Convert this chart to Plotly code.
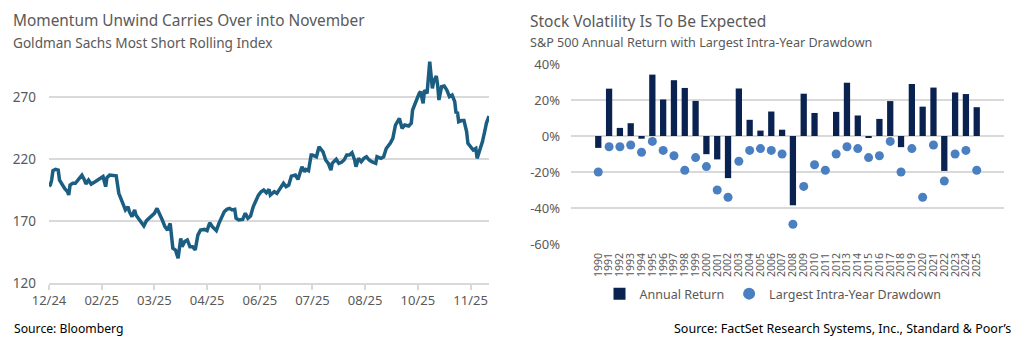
import plotly.graph_objects as go

# ---------------- Left chart data: Goldman Sachs Most Short Rolling Index ----------------
gs_dates = [
    "2024-12-31", "2025-01-01", "2025-01-02", "2025-01-03", "2025-01-05", "2025-01-07", "2025-01-08",
    "2025-01-10", "2025-01-12", "2025-01-14", "2025-01-15", "2025-01-16", "2025-01-18", "2025-01-20",
    "2025-01-23", "2025-01-25", "2025-01-27", "2025-01-28", "2025-01-30", "2025-02-01", "2025-02-04",
    "2025-02-06", "2025-02-08", "2025-02-10", "2025-02-12", "2025-02-13", "2025-02-15", "2025-02-17",
    "2025-02-20", "2025-02-22", "2025-02-23", "2025-02-25", "2025-02-27", "2025-03-01", "2025-03-02",
    "2025-03-04", "2025-03-06", "2025-03-07", "2025-03-09", "2025-03-11", "2025-03-13", "2025-03-15",
    "2025-03-17", "2025-03-19", "2025-03-21", "2025-03-23", "2025-03-25", "2025-03-27", "2025-03-29",
    "2025-03-31", "2025-04-02", "2025-04-03", "2025-04-04", "2025-04-06", "2025-04-08", "2025-04-10",
    "2025-04-11", "2025-04-13", "2025-04-15", "2025-04-17", "2025-04-19", "2025-04-21", "2025-04-23",
    "2025-04-25", "2025-04-28", "2025-04-30", "2025-05-02", "2025-05-04", "2025-05-07", "2025-05-09",
    "2025-05-11", "2025-05-13", "2025-05-15", "2025-05-17", "2025-05-19", "2025-05-21", "2025-05-22",
    "2025-05-24", "2025-05-27", "2025-05-29", "2025-05-31", "2025-06-02", "2025-06-04", "2025-06-06",
    "2025-06-08", "2025-06-10", "2025-06-12", "2025-06-14", "2025-06-16", "2025-06-17", "2025-06-20",
    "2025-06-22", "2025-06-25", "2025-06-27", "2025-06-29", "2025-07-01", "2025-07-03", "2025-07-06",
    "2025-07-08", "2025-07-10", "2025-07-11", "2025-07-13", "2025-07-14", "2025-07-16", "2025-07-18",
    "2025-07-19", "2025-07-22", "2025-07-24", "2025-07-25", "2025-07-27", "2025-07-29", "2025-07-31",
    "2025-08-02", "2025-08-03", "2025-08-06", "2025-08-08", "2025-08-10", "2025-08-12", "2025-08-14",
    "2025-08-16", "2025-08-18", "2025-08-20", "2025-08-21", "2025-08-23", "2025-08-25", "2025-08-27",
    "2025-08-29", "2025-08-31", "2025-09-02", "2025-09-05", "2025-09-06", "2025-09-09", "2025-09-11",
    "2025-09-13", "2025-09-16", "2025-09-18", "2025-09-20", "2025-09-22", "2025-09-23", "2025-09-25",
    "2025-09-27", "2025-09-30", "2025-10-02", "2025-10-03", "2025-10-06", "2025-10-08", "2025-10-09",
    "2025-10-11", "2025-10-12", "2025-10-14", "2025-10-16", "2025-10-17", "2025-10-18", "2025-10-19",
    "2025-10-21", "2025-10-22", "2025-10-23", "2025-10-25", "2025-10-27", "2025-10-29", "2025-10-31",
    "2025-11-02", "2025-11-04", "2025-11-05", "2025-11-06", "2025-11-07", "2025-11-09", "2025-11-11",
    "2025-11-13", "2025-11-14", "2025-11-16", "2025-11-18", "2025-11-20", "2025-11-21", "2025-11-23",
    "2025-11-25", "2025-11-27", "2025-11-28", "2025-11-30",
]
gs_values = [
    198.2, 199.0, 203.0, 210.6, 211.7, 211.0, 203.0,
    199.0, 196.0, 193.7, 191.0, 199.0, 200.4, 200.4,
    204.4, 207.0, 203.0, 199.8, 203.0, 199.8, 201.7,
    203.0, 204.4, 205.8, 197.7, 205.0, 207.0, 207.0,
    206.5, 192.3, 189.6, 184.2, 178.9, 181.5, 177.5,
    173.5, 178.9, 174.8, 172.2, 169.5, 166.0, 170.3,
    172.2, 173.5, 176.2, 180.2, 176.2, 170.8, 165.4,
    162.7, 168.1, 157.3, 148.0, 146.6, 139.9, 156.0,
    149.3, 153.4, 154.7, 149.3, 149.3, 146.6, 158.6,
    162.7, 163.2, 162.2, 168.6, 165.4, 162.2, 168.1,
    172.2, 177.5, 179.4, 180.2, 178.9, 179.4, 172.2,
    170.8, 171.3, 176.2, 172.2, 174.0, 181.5, 186.8,
    190.9, 193.6, 195.0, 192.8, 195.5, 190.9, 193.6,
    192.3, 197.7, 200.4, 197.7, 199.0, 206.2, 207.0,
    203.5, 210.4, 213.7, 209.7, 211.6, 210.6, 223.2,
    223.2, 221.8, 229.9, 228.5, 225.8, 219.2, 216.5,
    211.1, 216.5, 219.7, 216.5, 217.3, 219.2, 223.2,
    223.2, 225.1, 219.2, 213.8, 220.5, 217.8, 220.5,
    221.8, 219.2, 217.8, 216.5, 221.8, 220.5, 221.8,
    228.5, 232.6, 236.6, 247.4, 251.5, 252.8, 244.7,
    247.4, 246.6, 248.8, 259.5, 268.1, 273.0, 274.3,
    264.9, 275.6, 273.0, 298.5, 283.7, 277.0, 282.4,
    286.9, 279.7, 267.6, 278.3, 278.9, 275.6, 270.3,
    271.6, 266.2, 256.8, 258.1, 250.1, 251.0, 251.0,
    242.1, 232.6, 229.9, 227.2, 228.5, 220.5, 227.2,
    233.9, 243.4, 248.8, 254.7,
]
gs_tick_dates = ["2024-12-31", "2025-02-09", "2025-03-21", "2025-04-30", "2025-06-09",
                 "2025-07-19", "2025-08-28", "2025-10-07", "2025-11-16"]
gs_tick_labels = ["12/24", "02/25", "03/25", "04/25", "06/25", "07/25", "08/25", "10/25", "11/25"]
gs_y_ticks = [120, 170, 220, 270]

# ---------------- Right chart data: S&P 500 annual return & drawdown ----------------
years = [str(y) for y in range(1990, 2026)]
annual_return = [
    -6.6, 26.3, 4.5, 7.1, -1.5, 34.1, 20.3, 31.0, 26.7, 19.5,
    -10.1, -13.0, -23.4, 26.4, 9.0, 3.0, 13.6, 3.5, -38.5, 23.5,
    12.8, 0.0, 13.4, 29.6, 11.4, -0.7, 9.5, 19.4, -6.2, 28.9,
    16.3, 26.9, -19.4, 24.2, 23.3, 16.0,
]
drawdown = [
    -20, -6, -6, -5, -9, -3, -8, -11, -19, -12,
    -17, -30, -34, -14, -8, -7, -8, -10, -49, -28,
    -16, -19, -10, -6, -7, -12, -11, -3, -20, -7,
    -34, -5, -25, -10, -8, -19,
]
sp_y_ticks = [40, 20, 0, -20, -40, -60]
sp_y_labels = ["40%", "20%", "0%", "-20%", "-40%", "-60%"]

FONT = "Noto Sans"
GRAY = "#595959"
GRID = "#d9d9d9"
W, H = 1024, 347

def px_x(p):
    return p / W

def px_y(p):
    return 1 - p / H

fig = go.Figure()

fig.add_trace(go.Scatter(
    x=gs_dates, y=gs_values, mode="lines",
    line=dict(color="#1b5e82", width=3.5),
    xaxis="x", yaxis="y", showlegend=False, hoverinfo="x+y",
))

fig.add_trace(go.Bar(
    x=years, y=annual_return, name="Annual Return",
    marker=dict(color="#0a2250", line=dict(width=0)),
    width=0.58, xaxis="x2", yaxis="y2",
))
fig.add_trace(go.Scatter(
    x=years, y=drawdown, name="Largest Intra-Year Drawdown", mode="markers",
    marker=dict(color="#4a7fc1", size=9),
    xaxis="x2", yaxis="y2",
))

fig.update_layout(
    width=W, height=H,
    margin=dict(l=0, r=0, t=0, b=0, autoexpand=False),
    paper_bgcolor="white", plot_bgcolor="white",
    font=dict(family=FONT, color=GRAY),
    xaxis=dict(
        domain=[px_x(49), px_x(489)],
        type="date",
        range=["2024-12-31", "2025-11-30"],
        tickmode="array", tickvals=gs_tick_dates, ticktext=gs_tick_labels,
        showgrid=False, zeroline=False,
        showline=True, linecolor=GRID, linewidth=1.5,
        ticks="outside", ticklen=5, tickcolor=GRID, tickwidth=1.5,
        tickfont=dict(size=13, color=GRAY, family=FONT),
        automargin=False,
        anchor="y",
    ),
    yaxis=dict(
        domain=[px_y(283), px_y(59.8)],
        range=[120, 300],
        tickmode="array", tickvals=gs_y_ticks,
        showgrid=True, gridcolor=GRID, gridwidth=1.5,
        zeroline=False, showline=False,
        tickfont=dict(size=13.5, color=GRAY, family=FONT),
        ticklabelstandoff=12,
        automargin=False,
        anchor="x",
    ),
    xaxis2=dict(
        domain=[px_x(571), px_x(1004)],
        type="category",
        tickmode="array", tickvals=years, ticktext=years,
        tickangle=-90,
        showgrid=False, zeroline=False, showline=False,
        tickfont=dict(size=10.5, color=GRAY, family=FONT),
        ticklabelstandoff=6,
        automargin=False,
        anchor="y2",
    ),
    yaxis2=dict(
        domain=[px_y(244), px_y(64)],
        range=[-60, 40],
        tickmode="array", tickvals=sp_y_ticks, ticktext=sp_y_labels,
        showgrid=True, gridcolor=GRID, gridwidth=1.5,
        zeroline=False, showline=False,
        tickfont=dict(size=13, color=GRAY, family=FONT),
        ticklabelstandoff=10,
        automargin=False,
        anchor="x2",
    ),
    legend=dict(
        orientation="h",
        x=px_x(773), xanchor="center",
        y=px_y(294), yanchor="middle",
        font=dict(size=12.5, color=GRAY, family=FONT),
        itemsizing="constant",
        bgcolor="rgba(0,0,0,0)",
        traceorder="normal",
        itemwidth=30,
    ),
    annotations=[
        dict(text="Momentum Unwind Carries Over into November", x=px_x(11), y=px_y(21),
             xref="paper", yref="paper", xanchor="left", yanchor="middle", showarrow=False,
             font=dict(size=15.4, color=GRAY, family=FONT)),
        dict(text="Goldman Sachs Most Short Rolling Index", x=px_x(11), y=px_y(42),
             xref="paper", yref="paper", xanchor="left", yanchor="middle", showarrow=False,
             font=dict(size=13.6, color=GRAY, family=FONT)),
        dict(text="Source: Bloomberg", x=px_x(12), y=px_y(328),
             xref="paper", yref="paper", xanchor="left", yanchor="middle", showarrow=False,
             font=dict(size=12.2, color="#000000", family=FONT)),
        dict(text="Stock Volatility Is To Be Expected", x=px_x(528), y=px_y(21),
             xref="paper", yref="paper", xanchor="left", yanchor="middle", showarrow=False,
             font=dict(size=15.5, color=GRAY, family=FONT)),
        dict(text="S&P 500 Annual Return with Largest Intra-Year Drawdown", x=px_x(528), y=px_y(42),
             xref="paper", yref="paper", xanchor="left", yanchor="middle", showarrow=False,
             font=dict(size=12.6, color=GRAY, family=FONT)),
        dict(text="Source: FactSet Research Systems, Inc., Standard & Poor’s", x=px_x(1013), y=px_y(328),
             xref="paper", yref="paper", xanchor="right", yanchor="middle", showarrow=False,
             font=dict(size=12.5, color="#000000", family=FONT)),
    ],
)

fig.write_html("out.html")
